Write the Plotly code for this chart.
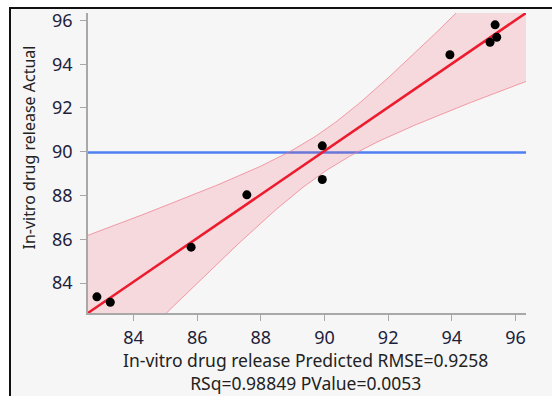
import numpy as np
import plotly.graph_objects as go

# Data
predicted = [82.85, 83.27, 85.81, 87.56, 89.93, 89.93, 93.94, 95.20, 95.36, 95.41]
actual = [83.37, 83.12, 85.64, 88.03, 90.27, 88.73, 94.43, 95.00, 95.80, 95.23]
x_ticks = [84, 86, 88, 90, 92, 94, 96]
y_ticks = [84, 86, 88, 90, 92, 94, 96]
x_title = "In-vitro drug release Predicted RMSE=0.9258<br>RSq=0.98849 PValue=0.0053"
y_title = "In-vitro drug release Actual"

# band shape constants (confidence curves)
band_a = 0.90
band_b = 0.215

px = np.array(predicted)
ay = np.array(actual)
slope, intercept = np.polyfit(px, ay, 1)
xbar = px.mean()
ybar = ay.mean()

xr = [82.57, 96.33]
yr = [82.63, 96.34]
xs = np.linspace(80, 99, 200)
fit = slope * xs + intercept
hw = np.sqrt(band_a + band_b * (xs - xbar) ** 2)
upper = fit + hw
lower = fit - hw

FONT = "Noto Sans"
TXT = "#1e1e3c"
L, R, T, B = 88, 26, 13, 83
W, H = 552, 396
PW, PH = W - L - R, H - T - B


def pxx(x):
    return (x - L) / PW


def pxy(y):
    return (H - B - y) / PH


fig = go.Figure()
# mean line
fig.add_trace(go.Scatter(x=[70, 110], y=[ybar, ybar], mode="lines",
                         line=dict(color="#4f7ff0", width=2.5), hoverinfo="skip"))
# confidence band
fig.add_trace(go.Scatter(x=xs, y=lower, mode="lines",
                         line=dict(color="rgba(240,120,135,0.7)", width=1), hoverinfo="skip"))
fig.add_trace(go.Scatter(x=xs, y=upper, mode="lines", fill="tonexty",
                         fillcolor="rgba(245,80,100,0.17)",
                         line=dict(color="rgba(240,120,135,0.7)", width=1), hoverinfo="skip"))
# fit line
fig.add_trace(go.Scatter(x=xs, y=fit, mode="lines",
                         line=dict(color="#ec1c2e", width=2.5), hoverinfo="skip"))
# points
fig.add_trace(go.Scatter(x=predicted, y=actual, mode="markers",
                         marker=dict(color="black", size=9)))

fig.add_shape(type="rect", xref="paper", yref="paper",
              x0=pxx(10), x1=1.2, y0=-0.5, y1=pxy(8),
              fillcolor="#f6f6f6", line=dict(color="#111111", width=2), layer="below")

fig.add_annotation(text=x_title, xref="paper", yref="paper", x=pxx(305.5), y=pxy(396),
                   xanchor="center", yanchor="bottom", showarrow=False, borderpad=0,
                   font=dict(size=17.5, color="#222222"))
fig.add_annotation(text=y_title, xref="paper", yref="paper", x=pxx(28), y=pxy(147.5),
                   xanchor="center", yanchor="middle", showarrow=False, textangle=-90,
                   font=dict(size=16, color="#222222"))

fig.update_layout(
    width=W, height=H,
    margin=dict(l=L, r=R, t=T, b=B, autoexpand=False),
    paper_bgcolor="white", plot_bgcolor="white",
    showlegend=False,
    font=dict(family=FONT, size=16, color=TXT),
    xaxis=dict(range=xr, tickvals=x_ticks, ticks="outside", ticklen=6, tickcolor="#a8a8a8",
               showline=True, linecolor="#a8a8a8", linewidth=1.5, showgrid=False, zeroline=False,
               tickfont=dict(size=18, color=TXT), ticklabelstandoff=2, automargin=False),
    yaxis=dict(range=yr, tickvals=y_ticks, ticks="outside", ticklen=6, tickcolor="#a8a8a8",
               showline=True, linecolor="#a8a8a8", linewidth=1.5, showgrid=False, zeroline=False,
               tickfont=dict(size=18, color=TXT), ticklabelstandoff=4, automargin=False),
)

fig.write_html("out.html")
